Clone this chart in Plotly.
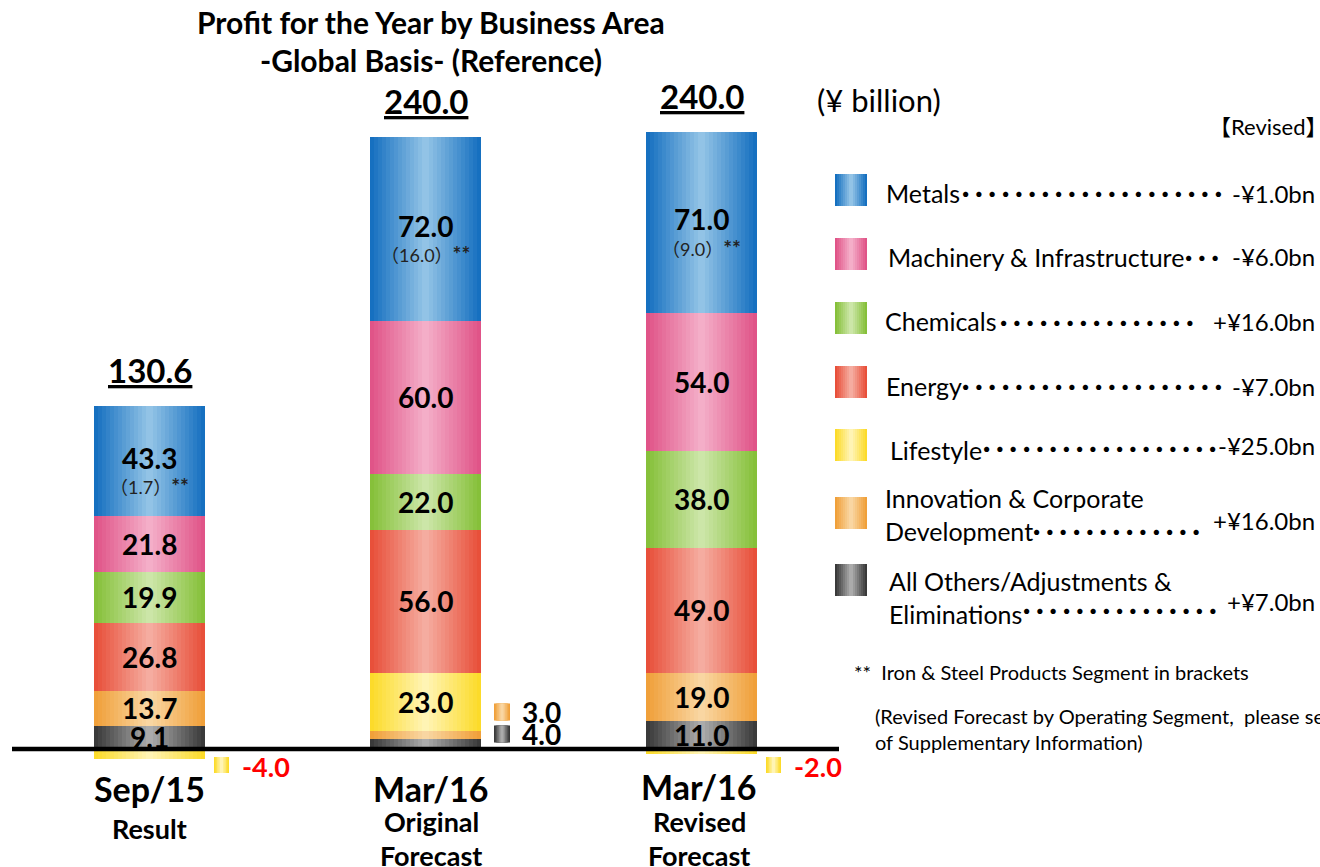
import plotly.graph_objects as go

# ---------------- data ----------------
periods = ["Sep/15", "Mar/16 Original", "Mar/16 Revised"]
period_main = ["Sep/15", "Mar/16", "Mar/16"]
period_sub = [["Result"], ["Original", "Forecast"], ["Revised", "Forecast"]]

# bottom -> top stacking order
segments = ["All Others/Adjustments & Eliminations", "Innovation & Corporate Development",
            "Lifestyle", "Energy", "Chemicals", "Machinery & Infrastructure", "Metals"]
others = [9.1, 4.0, 11.0]
innovation = [13.7, 3.0, 19.0]
lifestyle = [-4.0, 23.0, -2.0]
energy = [26.8, 56.0, 49.0]
chemicals = [19.9, 22.0, 38.0]
machinery = [21.8, 60.0, 54.0]
metals = [43.3, 72.0, 71.0]
iron_steel = [1.7, 16.0, 9.0]          # Iron & Steel Products segment (in brackets)
totals = [130.6, 240.0, 240.0]

# legend (top -> bottom) with revision amounts
legend_names = ["Metals", "Machinery & Infrastructure", "Chemicals", "Energy", "Lifestyle",
                "Innovation & Corporate<br>Development", "All Others/Adjustments &<br>Eliminations"]
revisions = ["-¥1.0bn", "-¥6.0bn", "+¥16.0bn", "-¥7.0bn", "-¥25.0bn", "+¥16.0bn", "+¥7.0bn"]

values = [others, innovation, lifestyle, energy, chemicals, machinery, metals]

# colours: (edge, centre) for gradient look, same order as segments
colors = [("#3a3a3a", "#ababab"), ("#f0a03a", "#f9d6a2"), ("#fcdb2a", "#fff4b4"),
          ("#e8503a", "#f5aca0"), ("#86c03a", "#cce6a8"), ("#e05488", "#f4aec8"),
          ("#1670c0", "#92c3e6")]
legend_colors = colors[::-1]

# ---------------- geometry (page pixels) ----------------
OFF = 0
W_PX, H_PX = 1320 - OFF, 867 - OFF
PX_PER_CAT = 276.0
X0_PX = 149.5
PX_PER_UNIT = 2.55
ZERO_PX = 749.0
xmin = -(X0_PX - OFF) / PX_PER_CAT
xmax = xmin + W_PX / PX_PER_CAT
ymax = (ZERO_PX - OFF) / PX_PER_UNIT
ymin = ymax - H_PX / PX_PER_UNIT
BAR_W = 111 / PX_PER_CAT
FONT = "Lato, 'Noto Sans CJK JP', sans-serif"


def X(px):
    return (px - OFF) / W_PX


def Y(py):
    return 1 - (py - OFF) / H_PX


def mix(c1, c2, t):
    a = [int(c1[i:i + 2], 16) for i in (1, 3, 5)]
    b = [int(c2[i:i + 2], 16) for i in (1, 3, 5)]
    return "#" + "".join(f"{round(a[j] + (b[j] - a[j]) * t):02x}" for j in range(3))


def txt(px, py, text, size, xanchor="center", color="black", family=FONT, align="center"):
    return dict(x=X(px), xref="paper", y=Y(py), yref="paper", xanchor=xanchor, yanchor="middle",
                text=text, showarrow=False, align=align,
                font=dict(size=size, color=color, family=family))


fig = go.Figure()
N_LAYERS = 14
for k in range(N_LAYERS):
    t = k / (N_LAYERS - 1)
    width = BAR_W * (1 - k / N_LAYERS)
    yax = "y" if k == 0 else f"y{k + 1}"
    for name, vals, (ce, cc) in zip(segments, values, colors):
        fig.add_trace(go.Bar(
            x=periods, y=vals, name=name, width=width,
            marker=dict(color=mix(ce, cc, t), line=dict(width=0)),
            yaxis=yax, showlegend=False,
            hoverinfo="skip" if k else "x+y+name",
        ))

layout_axes = {}
for k in range(1, N_LAYERS):
    layout_axes[f"yaxis{k + 1}"] = dict(overlaying="y", range=[ymin, ymax], visible=False)

annotations = []
shapes = []


def grad_rect(x0, x1, y0, y1, ce, cc, n=6):
    half = (x1 - x0) / 2
    for k in range(n):
        inset = half * k / n
        shapes.append(dict(type="rect", xref="paper", yref="paper",
                           x0=X(x0 + inset), x1=X(x1 - inset), y0=Y(y1), y1=Y(y0),
                           line=dict(width=0), fillcolor=mix(ce, cc, k / (n - 1))))


# ---------- value labels ----------
for i, p in enumerate(periods):
    pos, neg = 0.0, 0.0
    small = []
    xr = X0_PX + i * PX_PER_CAT + 111 / 2
    for s, vals in enumerate(values):
        v = vals[i]
        if v >= 0:
            base = pos
            pos += v
        else:
            base = neg
            neg += v
        mid = base + v / 2
        if v >= 5:
            if segments[s] == "Metals":
                annotations.append(dict(x=p, y=mid, yref="y", text=f"<b>{v:.1f}</b>", showarrow=False,
                                        font=dict(size=28, color="black", family=FONT), yshift=3))
                annotations.append(dict(x=p, y=mid, yref="y",
                                        text=f"（{iron_steel[i]:.1f}）<span style='font-size:21px'><b>**</b></span>",
                                        showarrow=False, yshift=-25,
                                        font=dict(size=18, color="#222", family=FONT)))
            else:
                annotations.append(dict(x=p, y=mid, yref="y", text=f"<b>{v:.1f}</b>", showarrow=False,
                                        font=dict(size=28, color="black", family=FONT)))
        elif v >= 0:
            small.append((v, colors[s]))
        else:
            ce, cc = colors[s]
            grad_rect(xr + 9, xr + 24, 757, 773, ce, cc, 5)
            annotations.append(txt(xr + 35, 766, f"<b>{v:.1f}</b>", 27, xanchor="left", color="#ff0000"))
    for j, (v, (ce, cc)) in enumerate(small):
        cy = ZERO_PX - 15 - 22 * j
        grad_rect(xr + 13, xr + 29, cy - 8.5, cy + 8.5, ce, cc, 5)
        annotations.append(txt(xr + 39, cy, f"<b>{v:.1f}</b>", 28, xanchor="left"))
    # total above bar
    annotations.append(dict(x=p, y=pos, yref="y", yshift=36, text=f"<b><u>{totals[i]:.1f}</u></b>",
                            showarrow=False, font=dict(size=33, color="black", family=FONT)))

# ---------- category labels ----------
cat_px = [149, 431, 699]
main_py = [788, 788, 786]
for i in range(3):
    annotations.append(txt(cat_px[i], main_py[i], f"<b>{period_main[i]}</b>", 34))
    for j, s in enumerate(period_sub[i]):
        py = (828 if i == 0 else 821) + 34 * j
        annotations.append(txt(cat_px[i], py, f"<b>{s}</b>", 27))

# ---------- baseline ----------
shapes.append(dict(type="line", xref="paper", yref="y", x0=X(12), x1=X(839), y0=0, y1=0,
                   line=dict(color="black", width=4.5)))

# ---------- title & units ----------
annotations.append(txt(431, 22, "<b>Profit for the Year by Business Area</b>", 30))
annotations.append(txt(431, 60, "<b>-Global Basis- (Reference)</b>", 30))
annotations.append(txt(815, 100, "(¥ billion)", 31, xanchor="left"))
annotations.append(txt(1330, 127, "【Revised】", 22, xanchor="right"))

# ---------- custom legend ----------
sq_cy = [190, 254, 318, 382, 445, 513, 580]
lab_x = [884, 886, 883, 884, 888, 883, 887]
lab_y = [193, 257, 321, 386, 450, 514, 597]
val_y = [193, 256, 321, 386, 446, 520, 601]
dots_x = [(962, 1218), (1185, 1215), (1000, 1180), (962, 1218), (983, 1205), (1033, 1196), (1023, 1215)]
dots_y = [192, 257, 321, 385, 448, 530, 609]
for r in range(7):
    ce, cc = legend_colors[r]
    grad_rect(835, 867, sq_cy[r] - 16, sq_cy[r] + 16, ce, cc, 8)
    annotations.append(txt(lab_x[r], lab_y[r], legend_names[r], 25, xanchor="left", align="left"))
    annotations.append(txt(1317, val_y[r], revisions[r], 24, xanchor="right"))
    n = int(round((dots_x[r][1] - dots_x[r][0]) / 13.3)) + 1
    annotations.append(txt(dots_x[r][0] - 5, dots_y[r], "<b>" + "･" * n + "</b>", 26.6,
                           xanchor="left", family="'Noto Sans CJK JP'"))

# ---------- footnotes ----------
annotations.append(txt(852, 672, "**  Iron & Steel Products Segment in brackets", 20, xanchor="left"))
annotations.append(txt(873, 729, "(Revised Forecast by Operating Segment,  please see<br>of Supplementary Information)",
                       20, xanchor="left", align="left"))

fig.update_layout(
    width=W_PX, height=H_PX,
    margin=dict(l=0, r=0, t=0, b=0),
    barmode="relative", bargap=0,
    plot_bgcolor="white", paper_bgcolor="white",
    xaxis=dict(range=[xmin, xmax], visible=False, type="category"),
    yaxis=dict(range=[ymin, ymax], visible=False),
    annotations=annotations, shapes=shapes,
    showlegend=False,
    **layout_axes,
)

fig.write_html(
    "out.html",
    config={"displayModeBar": False},
    post_script="document.body.style.margin='0';document.body.style.overflow='hidden';",
)
